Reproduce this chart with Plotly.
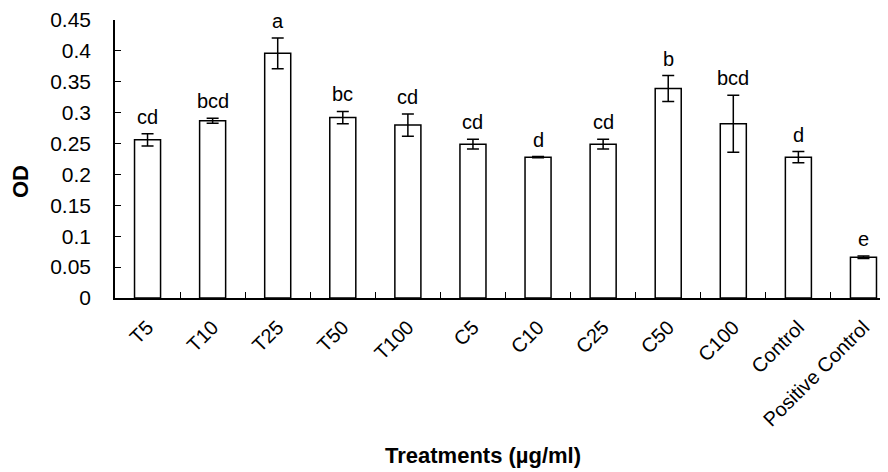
import plotly.graph_objects as go

categories = ["T5", "T10", "T25", "T50", "T100", "C5", "C10", "C25", "C50", "C100",
              "Control", "Positive Control"]
od_values = [0.256, 0.287, 0.396, 0.292, 0.280, 0.249, 0.228, 0.249, 0.339, 0.282,
             0.228, 0.066]
od_errors = [0.010, 0.004, 0.025, 0.010, 0.018, 0.008, 0.001, 0.008, 0.021, 0.046,
             0.009, 0.002]
letters = ["cd", "bcd", "a", "bc", "cd", "cd", "d", "cd", "b", "bcd", "d", "e"]
y_ticks = [0, 0.05, 0.1, 0.15, 0.2, 0.25, 0.3, 0.35, 0.4, 0.45]
y_tick_labels = ["0", "0.05", "0.1", "0.15", "0.2", "0.25", "0.3", "0.35", "0.4", "0.45"]

FONT = "Liberation Sans, Arial, sans-serif"

# page body has an 8px margin: compensate so the plot lands where the reference has it
OFF = 8
W, H = 888 - OFF, 472 - OFF
L, T, B = 115 - OFF, 20 - OFF, 472 - 298
PW = W - L
PH = H - T - B

fig = go.Figure()
fig.add_trace(go.Bar(
    x=categories, y=od_values, width=0.4,
    marker=dict(color="white", line=dict(color="black", width=1.5)),
    error_y=dict(type="data", array=od_errors, visible=True,
                 color="black", thickness=1.5, width=6),
    showlegend=False,
))

for c, v, e, t in zip(categories, od_values, od_errors, letters):
    fig.add_annotation(x=c, y=v + e, text=t, showarrow=False,
                       yanchor="bottom", yshift=4,
                       font=dict(family=FONT, size=20, color="black"))

fig.add_annotation(xref="paper", yref="paper", x=(483 - 115) / PW, y=-(455 - 298) / PH,
                   text="<b>Treatments (µg/ml)</b>", showarrow=False,
                   xanchor="center", yanchor="middle",
                   font=dict(family=FONT, size=22, color="black"))
fig.add_annotation(xref="paper", yref="paper", x=-(115 - 21) / PW, y=(298 - 182) / PH,
                   text="<b>OD</b>", showarrow=False, textangle=-90,
                   xanchor="center", yanchor="middle",
                   font=dict(family=FONT, size=22, color="black"))

fig.update_layout(
    width=W, height=H,
    margin=dict(l=L, r=0, t=T, b=B, autoexpand=False),
    plot_bgcolor="white", paper_bgcolor="white",
    font=dict(family=FONT, color="black"),
    bargap=0.6,
)
fig.update_xaxes(
    type="category", range=[-0.5, 11.5 - 8 / 65], automargin=False,
    showline=True, linecolor="black", linewidth=1.5,
    ticks="inside", ticklen=6, tickwidth=1.2, tickcolor="black",
    tickson="boundaries", tickangle=-45,
    tickfont=dict(family=FONT, size=20, color="black"),
    ticklabelstandoff=8,
    showgrid=False, zeroline=False,
)
fig.update_yaxes(
    range=[0, 0.45], tickvals=y_ticks, ticktext=y_tick_labels, automargin=False,
    showline=True, linecolor="black", linewidth=1.5,
    ticks="inside", ticklen=6, tickwidth=1.2, tickcolor="black",
    tickfont=dict(family=FONT, size=21, color="black"),
    ticklabelstandoff=18,
    showgrid=False, zeroline=False,
)

fig.write_html("out.html")
